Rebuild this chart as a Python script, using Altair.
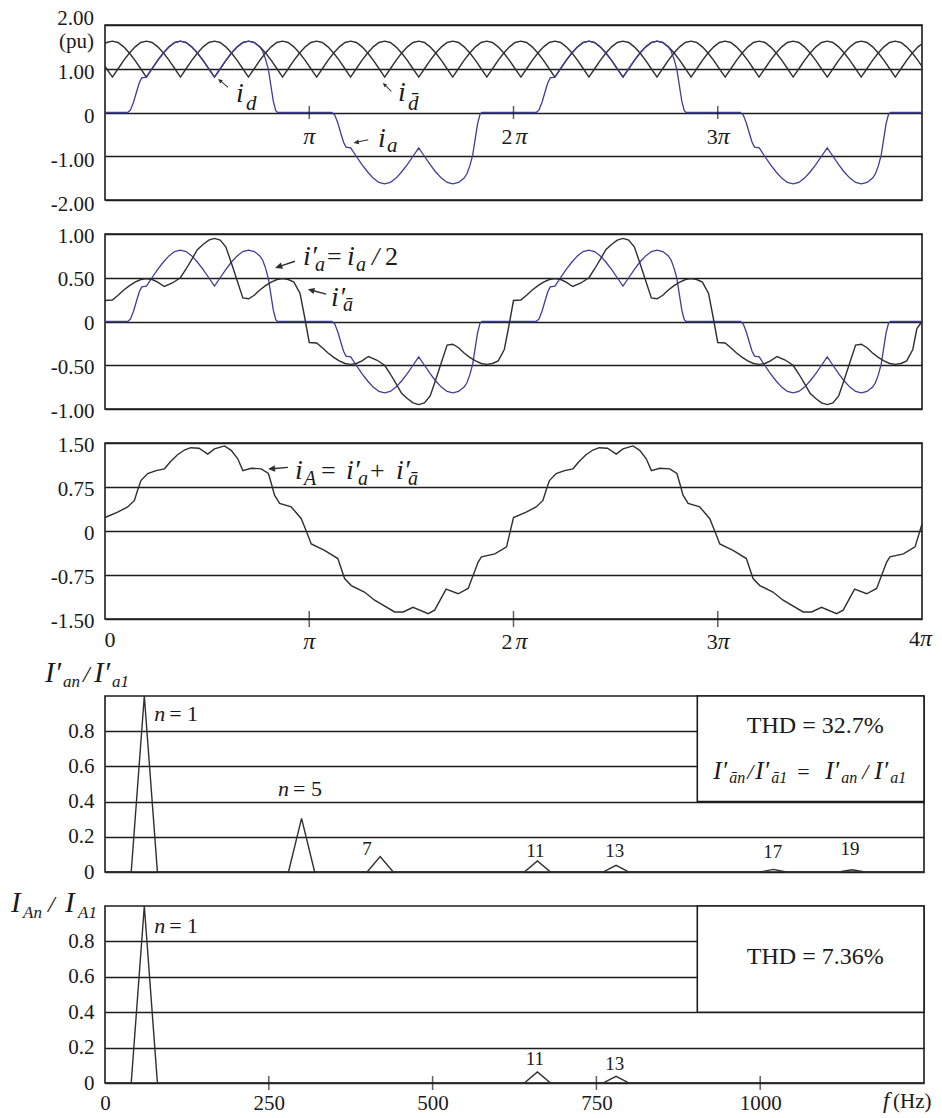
import altair as alt
import pandas as pd

SERIF = "Liberation Serif"
INK = "#1c1c1c"
CURVE = "#2f2f2f"
BLUE = "#3d3d9a"
LABEL = "#1a1a1a"

W_T, W_F = 817, 819  # plot widths: angle panels, frequency panels

# ---------------- waveforms: angle in units of pi, current in pu ----------------
# one ripple arch of the DC currents (offset from crest, value)
ripple_offset = [-6/36, -5/36, -4/36, -3/36, -2/36, -1/36, 0.0, 1/36, 2/36, 3/36, 4/36, 5/36]
ripple_value = [0.81, 1.00, 1.19, 1.36, 1.50, 1.60, 1.63, 1.60, 1.50, 1.36, 1.19, 1.00]
id_crests = [0.036, 0.369, 0.703, 1.036, 1.369, 1.703, 2.036, 2.369, 2.703,
             3.036, 3.369, 3.703, 4.036]
idbar_crests = [-0.131, 0.203, 0.536, 0.869, 1.203, 1.536, 1.869, 2.203, 2.536,
                2.869, 3.203, 3.536, 3.869]

# phase current i_a, positive half cycle
ia_half_t = [0.000, 0.111, 0.125, 0.140, 0.155, 0.168, 0.180, 0.203, 0.230, 0.258,
             0.286, 0.313, 0.341, 0.369, 0.397, 0.425, 0.452, 0.480, 0.508, 0.536,
             0.564, 0.592, 0.619, 0.647, 0.675, 0.703, 0.731, 0.758, 0.772, 0.786,
             0.800, 0.812, 0.824, 0.836, 0.845]
ia_half_v = [0.00, 0.00, 0.06, 0.24, 0.48, 0.68, 0.79, 0.81, 1.00, 1.19,
             1.36, 1.50, 1.60, 1.63, 1.60, 1.50, 1.36, 1.19, 1.00, 0.81,
             1.00, 1.19, 1.36, 1.50, 1.60, 1.63, 1.60, 1.50, 1.40, 1.22,
             0.98, 0.62, 0.26, 0.04, 0.00]

# delta-side current referred to the line, positive half cycle
iab_half_t = [0.000, 0.036, 0.064, 0.092, 0.120, 0.147, 0.175, 0.203, 0.231, 0.258,
              0.290, 0.330, 0.369, 0.397, 0.425, 0.452, 0.480, 0.508, 0.536, 0.564,
              0.592, 0.620, 0.648, 0.675, 0.703, 0.731, 0.758, 0.786, 0.814, 0.842,
              0.869, 0.897, 0.925, 0.955, 0.975]
iab_half_v = [0.24, 0.245, 0.30, 0.36, 0.41, 0.45, 0.48, 0.49, 0.48, 0.45,
              0.40, 0.44, 0.50, 0.60, 0.71, 0.82, 0.88, 0.93, 0.95, 0.93,
              0.85, 0.66, 0.46, 0.27, 0.26, 0.30, 0.36, 0.41, 0.45, 0.48,
              0.49, 0.48, 0.45, 0.32, 0.08]
iab_end = (4.0, 0.0)

# line current i_A over one full cycle
iA_t = [0.000, 0.062, 0.111, 0.144, 0.160, 0.176, 0.209, 0.250, 0.291, 0.320,
        0.355, 0.389, 0.420, 0.460, 0.503, 0.536, 0.585, 0.618, 0.650, 0.675,
        0.716, 0.765, 0.800, 0.815, 0.830, 0.855, 0.912, 0.961, 0.993, 1.010,
        1.075, 1.140, 1.173, 1.206, 1.270, 1.320, 1.418, 1.460, 1.508, 1.582,
        1.614, 1.670, 1.729, 1.778, 1.827, 1.843, 1.909, 1.966]
iA_v = [0.23, 0.32, 0.41, 0.52, 0.70, 0.86, 0.98, 1.03, 1.06, 1.18,
        1.30, 1.38, 1.42, 1.41, 1.31, 1.40, 1.45, 1.375, 1.23, 1.03,
        1.07, 1.06, 0.98, 0.80, 0.61, 0.47, 0.41, 0.21, -0.07, -0.22,
        -0.33, -0.47, -0.81, -0.93, -1.04, -1.18, -1.38, -1.38, -1.30, -1.41,
        -1.35, -0.99, -1.07, -0.98, -0.53, -0.44, -0.39, -0.27]
iA_end = (4.0, 0.12)

cycle_starts = [0, 2]

# ---------------- harmonic spectra ----------------
f_fund = 60
peak_halfwidth = 20
f_max = 1250
order_a = [1, 5, 7, 11, 13, 17, 19]
mag_a = [1.0, 0.305, 0.088, 0.063, 0.038, 0.015, 0.013]
order_A = [1, 11, 13]
mag_A = [1.0, 0.063, 0.038]
tag_a = ["7", "11", "13", "17", "19"]
tag_a_f = [400, 657, 778, 1019, 1137]
tag_a_y = [0.13, 0.12, 0.12, 0.115, 0.13]
tag_A = ["11", "13"]
tag_A_f = [656, 778]
tag_A_y = [0.136, 0.108]
box_f = [904, f_max]
box_y = [0.4, 1.0]


# ---------------- data assembly ----------------
def ripple(crests):
    t, v = [], []
    for c in crests:
        for o, val in zip(ripple_offset, ripple_value):
            t.append(c + o)
            v.append(val)
    return pd.DataFrame({"x": t, "y": v})


def halfwave_cycles(ht, hv, end=None):
    t, v = [], []
    for c in cycle_starts:
        t += [c + a for a in ht] + [c + 1 + a for a in ht]
        v += list(hv) + [-b for b in hv]
    if end:
        t.append(end[0])
        v.append(end[1])
    return pd.DataFrame({"x": t, "y": v})


def cycles(ct, cv, end=None):
    t, v = [], []
    for c in cycle_starts:
        t += [c + a for a in ct]
        v += list(cv)
    if end:
        t.append(end[0])
        v.append(end[1])
    return pd.DataFrame({"x": t, "y": v})


def spectrum(orders, mags):
    xs, ys = [0.0], [0.0]
    for n, m in zip(orders, mags):
        f = f_fund * n
        xs += [f - peak_halfwidth, f, f + peak_halfwidth]
        ys += [0.0, m, 0.0]
    xs.append(f_max)
    ys.append(0.0)
    return pd.DataFrame({"x": xs, "y": ys})


id_df = ripple(id_crests)
idbar_df = ripple(idbar_crests)
ia_df = halfwave_cycles(ia_half_t, ia_half_v, (4.0, 0.0))
ia_prime_df = ia_df.assign(y=ia_df["y"] / 2)          # i'_a = i_a / 2
iab_df = halfwave_cycles(iab_half_t, iab_half_v, iab_end)
iA_df = cycles(iA_t, iA_v, iA_end)
spec_a = spectrum(order_a, mag_a)
spec_A = spectrum(order_A, mag_A)


# ---------------- helpers ----------------
def two_dec(blank_top=False):
    core = "datum.value == 0 ? '0' : (datum.value < 0 ? '-' : '') + format(abs(datum.value), '.2f')"
    return ("datum.value == 2 ? '' : " + core) if blank_top else core


def y_axis(values, expr, offset):
    return alt.Axis(values=values, labelExpr=expr, grid=True, gridColor=INK, gridWidth=1.6,
                    gridOpacity=1, domain=False, ticks=False, tickSize=0, labelFont=SERIF,
                    labelFontSize=21, labelColor=LABEL, labelPadding=11, labelOffset=offset,
                    title=None)


def enc(domain, axis=None, field="x", ch="x"):
    sc = alt.Scale(domain=domain, nice=False, zero=False)
    if ch == "x":
        return alt.X(field + ":Q", scale=sc, axis=axis)
    return alt.Y(field + ":Q", scale=sc, axis=axis)


def line(df, X, Y, color=CURVE, width=1.4, clip=False):
    return alt.Chart(df).mark_line(color=color, strokeWidth=width, clip=clip).encode(x=X, y=Y)


def words(ax, ay, parts, X, Y):
    src = pd.DataFrame({"x": [ax], "y": [ay]})
    out = []
    for p in parts:
        text, dx, dy, size, style = p[:5]
        align = p[5] if len(p) > 5 else "left"
        out.append(alt.Chart(src).mark_text(text=text, align=align, baseline="alphabetic",
                                            dx=dx, dy=dy, font=SERIF, fontSize=size,
                                            fontStyle=style, color=LABEL).encode(x=X, y=Y))
    return out


ARROW = "M-1,0L-0.3,-0.32L-0.3,-0.07L1,-0.07L1,0.07L-0.3,0.07L-0.3,0.32Z"


def arrow(ax, ay, angle, length, X, Y):
    src = pd.DataFrame({"x": [ax], "y": [ay]})
    return alt.Chart(src).mark_point(shape=ARROW, filled=True, size=length * length,
                                     angle=angle, color=CURVE, opacity=1,
                                     strokeWidth=0).encode(x=X, y=Y)


def ticks(xs, yv, size, X, Y):
    src = pd.DataFrame({"x": xs, "y": [yv] * len(xs)})
    return alt.Chart(src).mark_tick(orient="vertical", size=size, thickness=1.5,
                                    color=INK).encode(x=X, y=Y)


def frame(layers, w, h):
    return alt.layer(*layers).properties(width=w, height=h,
                                         view=alt.ViewBackground(stroke=INK, strokeWidth=1.6))


I, N = "italic", "normal"
PR = "\u2032"     # prime
ABAR = "\u0101"   # a with macron

# ---------------- panel 1: DC currents and i_a ----------------
X1 = enc([0, 4])
Y1 = enc([-2, 2], y_axis([-2, -1, 0, 1, 2], two_dec(True), 4), "y", "y")
p1_layers = [
    line(idbar_df, X1, Y1, clip=True),
    line(id_df, X1, Y1, clip=True),
    line(ia_df, X1, Y1, color=BLUE, width=1.3),
    ticks([1, 2, 3], 0, 13, X1, Y1),
]
p1_layers += words(0, 2, [("2.00", -11, 0, 21, N, "right"), ("(pu)", -11, 23, 21, N, "right")], X1, Y1)
p1_layers += words(1, 0, [("π", 0, 31, 24, I, "center")], X1, Y1)
p1_layers += words(2, 0, [("2", -1, 31, 22, N, "right"), ("π", 2, 31, 24, I, "left")], X1, Y1)
p1_layers += words(3, 0, [("3", 0, 31, 22, N, "right"), ("π", 0, 31, 24, I, "left")], X1, Y1)
p1_layers += words(0.641, 0.24, [("i", 0, 0, 28, I), ("d", 10, 8, 21, I)], X1, Y1)
p1_layers += words(1.435, 0.26, [("i", 0, 0, 28, I), ("d\u0304", 10, 9, 21, I)], X1, Y1)
p1_layers += words(1.337, -0.78, [("i", 0, 0, 28, I), ("a", 9, 5, 21, I)], X1, Y1)
p1_layers += [arrow(0.578, 0.67, 39, 13, X1, Y1),
              arrow(1.381, 0.58, 45, 12, X1, Y1),
              arrow(1.253, -0.66, 348, 15, X1, Y1)]
p1 = frame(p1_layers, W_T, 175)

# ---------------- panel 2: transformer-side currents ----------------
X2 = enc([0, 4])
Y2 = enc([-1, 1], y_axis([-1, -0.5, 0, 0.5, 1], two_dec(), 2), "y", "y")
p2_layers = [
    line(ia_prime_df, X2, Y2, color=BLUE, width=1.3),
    line(iab_df, X2, Y2),
]
p2_layers += words(0.969, 0.646, [("i" + PR, 0, 0, 28, I), ("a", 12, 6, 20, I),
                                  ("=", 24, 0, 26, N), ("i", 44, 0, 28, I), ("a", 53, 6, 20, I),
                                  ("/", 69, 0, 26, I), ("2", 82, 0, 26, N)], X2, Y2)
p2_layers += words(1.107, 0.18, [("i" + PR, 0, 0, 28, I), (ABAR, 12, 5, 20, I)], X2, Y2)
p2_layers += [arrow(0.881, 0.65, 341, 21, X2, Y2), arrow(1.038, 0.34, 15, 19, X2, Y2)]
p2 = frame(p2_layers, W_T, 175)

# ---------------- panel 3: line current ----------------
X3 = enc([0, 4])
Y3 = enc([-1.5, 1.5], y_axis([-1.5, -0.75, 0, 0.75, 1.5], two_dec(), 2), "y", "y")
p3_layers = [line(iA_df, X3, Y3), ticks([1, 2, 3], -1.5, 16, X3, Y3)]
p3_layers += words(0, -1.5, [("0", 5, 28, 22, N, "center")], X3, Y3)
p3_layers += words(1, -1.5, [("π", 0, 30, 24, I, "center")], X3, Y3)
p3_layers += words(2, -1.5, [("2", -1, 30, 22, N, "right"), ("π", 2, 30, 24, I, "left")], X3, Y3)
p3_layers += words(3, -1.5, [("3", 0, 30, 22, N, "right"), ("π", 0, 30, 24, I, "left")], X3, Y3)
p3_layers += words(4, -1.5, [("4", -2, 27, 22, N, "right"), ("π", -2, 27, 24, I, "left")], X3, Y3)
p3_layers += words(0.930, 0.886, [("i", 0, 0, 28, I), ("A", 9, 6, 20, I), ("=", 26, 0, 26, N),
                                  ("i" + PR, 51, 0, 28, I), ("a", 63, 6, 20, I),
                                  ("+", 75, 0, 26, N), ("i" + PR, 101, 0, 28, I),
                                  (ABAR, 113, 6, 20, I)], X3, Y3)
p3_layers += [arrow(0.847, 1.07, 355, 20, X3, Y3)]
p3 = frame(p3_layers, W_T, 176)

spacer = alt.Chart(pd.DataFrame({"x": [0]})).mark_point(opacity=0).encode(
    x=alt.value(0), y=alt.value(0)).properties(width=W_T, height=9,
                                               view=alt.ViewBackground(strokeOpacity=0))

# ---------------- spectra ----------------
spec_expr = "datum.value == 0 ? '0' : format(datum.value, '.1f')"


def spectrum_panel(df, tags, tag_f, tag_y, thd_lines, title_parts, title_dy, with_axis, h):
    x_axis = None
    if with_axis:
        x_axis = alt.Axis(values=[0, 250, 500, 750, 1000], format="d", labelFont=SERIF,
                          labelFontSize=21, labelColor=LABEL, labelPadding=9, ticks=False,
                          tickSize=0, domain=False, grid=False, labelFlush=False, title=None)
    X = enc([0, f_max], x_axis)
    Y = enc([0, 1], y_axis([0, 0.2, 0.4, 0.6, 0.8], spec_expr, 0), "y", "y")
    box = pd.DataFrame({"x": [box_f[0]], "x2": [box_f[1]], "y": [box_y[0]], "y2": [box_y[1]]})
    layers = [
        line(df, X, Y, width=1.4),
        alt.Chart(box).mark_rect(fill="white", stroke=INK, strokeWidth=1.6).encode(
            x=X, x2="x2:Q", y=Y, y2="y2:Q"),
    ]
    tag_df = pd.DataFrame({"x": tag_f, "y": tag_y, "t": tags})
    layers.append(alt.Chart(tag_df).mark_text(font=SERIF, fontSize=19, color=LABEL,
                                              baseline="middle").encode(x=X, y=Y, text="t:N"))
    layers += words(75, 0.86 if not with_axis else 0.85,
                    [("n", 0, 0, 22, I), ("= 1", 15, 0, 22, N)], X, Y)
    layers += thd_lines(X, Y)
    layers += words(0, 1.0, [(t, dx, title_dy + dy, s, st) for t, dx, dy, s, st in title_parts], X, Y)
    if with_axis:
        layers.append(ticks([250, 500, 750, 1000], 0, 14, X, Y))
        layers += words(f_max, 0, [("f", -41, 25, 23, I), ("(Hz)", -31, 25, 21, N)], X, Y)
    return frame(layers, W_F, h)


def thd_a(X, Y):
    out = words(1084, 0.835, [("THD = 32.7%", 0, 8, 24, N, "center")], X, Y)
    out += words(box_f[0], 0.5, [
        ("I" + PR, 16, -5, 25, I), ("\u0101n", 32, -1, 16, I),
        ("/", 50, -5, 22, I),
        ("I" + PR, 58, -5, 25, I), ("\u01011", 74, -1, 16, I),
        ("=", 100, -5, 22, N),
        ("I" + PR, 128, -5, 25, I), ("an", 144, -1, 16, I),
        ("/", 165, -5, 22, I),
        ("I" + PR, 177, -5, 25, I), ("a1", 193, -1, 16, I)], X, Y)
    out += words(264, 0.432, [("n", 0, 0, 22, I), ("= 5", 15, 0, 22, N)], X, Y)
    return out


def thd_A(X, Y):
    return words(1084, 0.716, [("THD = 7.36%", 0, 8, 24, N, "center")], X, Y)


title_a = [("I" + PR, -60, 0, 29, I), ("an", -42, 5, 17, I),
           ("/", -22, 0, 24, I), ("I" + PR, -11, 0, 29, I), ("a1", 7, 5, 17, I)]
title_A = [("I", -94, 0, 29, I), ("An", -82, 6, 17, I), ("/", -57, 0, 24, I),
           ("I", -40, 0, 29, I), ("A1", -27, 6, 17, I)]

p4 = spectrum_panel(spec_a, tag_a, tag_a_f, tag_a_y, thd_a, title_a, -14, False, 176)
p5 = spectrum_panel(spec_A, tag_A, tag_A_f, tag_A_y, thd_A, title_A, 6, True, 177)

chart = alt.vconcat(p1, p2, p3, spacer, p4, p5, spacing=34, bounds="flush").properties(
    padding={"left": 10, "top": 7, "right": 4, "bottom": 4}
).configure(background="white")

chart.save("out.html", embed_options={"renderer": "svg", "actions": False})
